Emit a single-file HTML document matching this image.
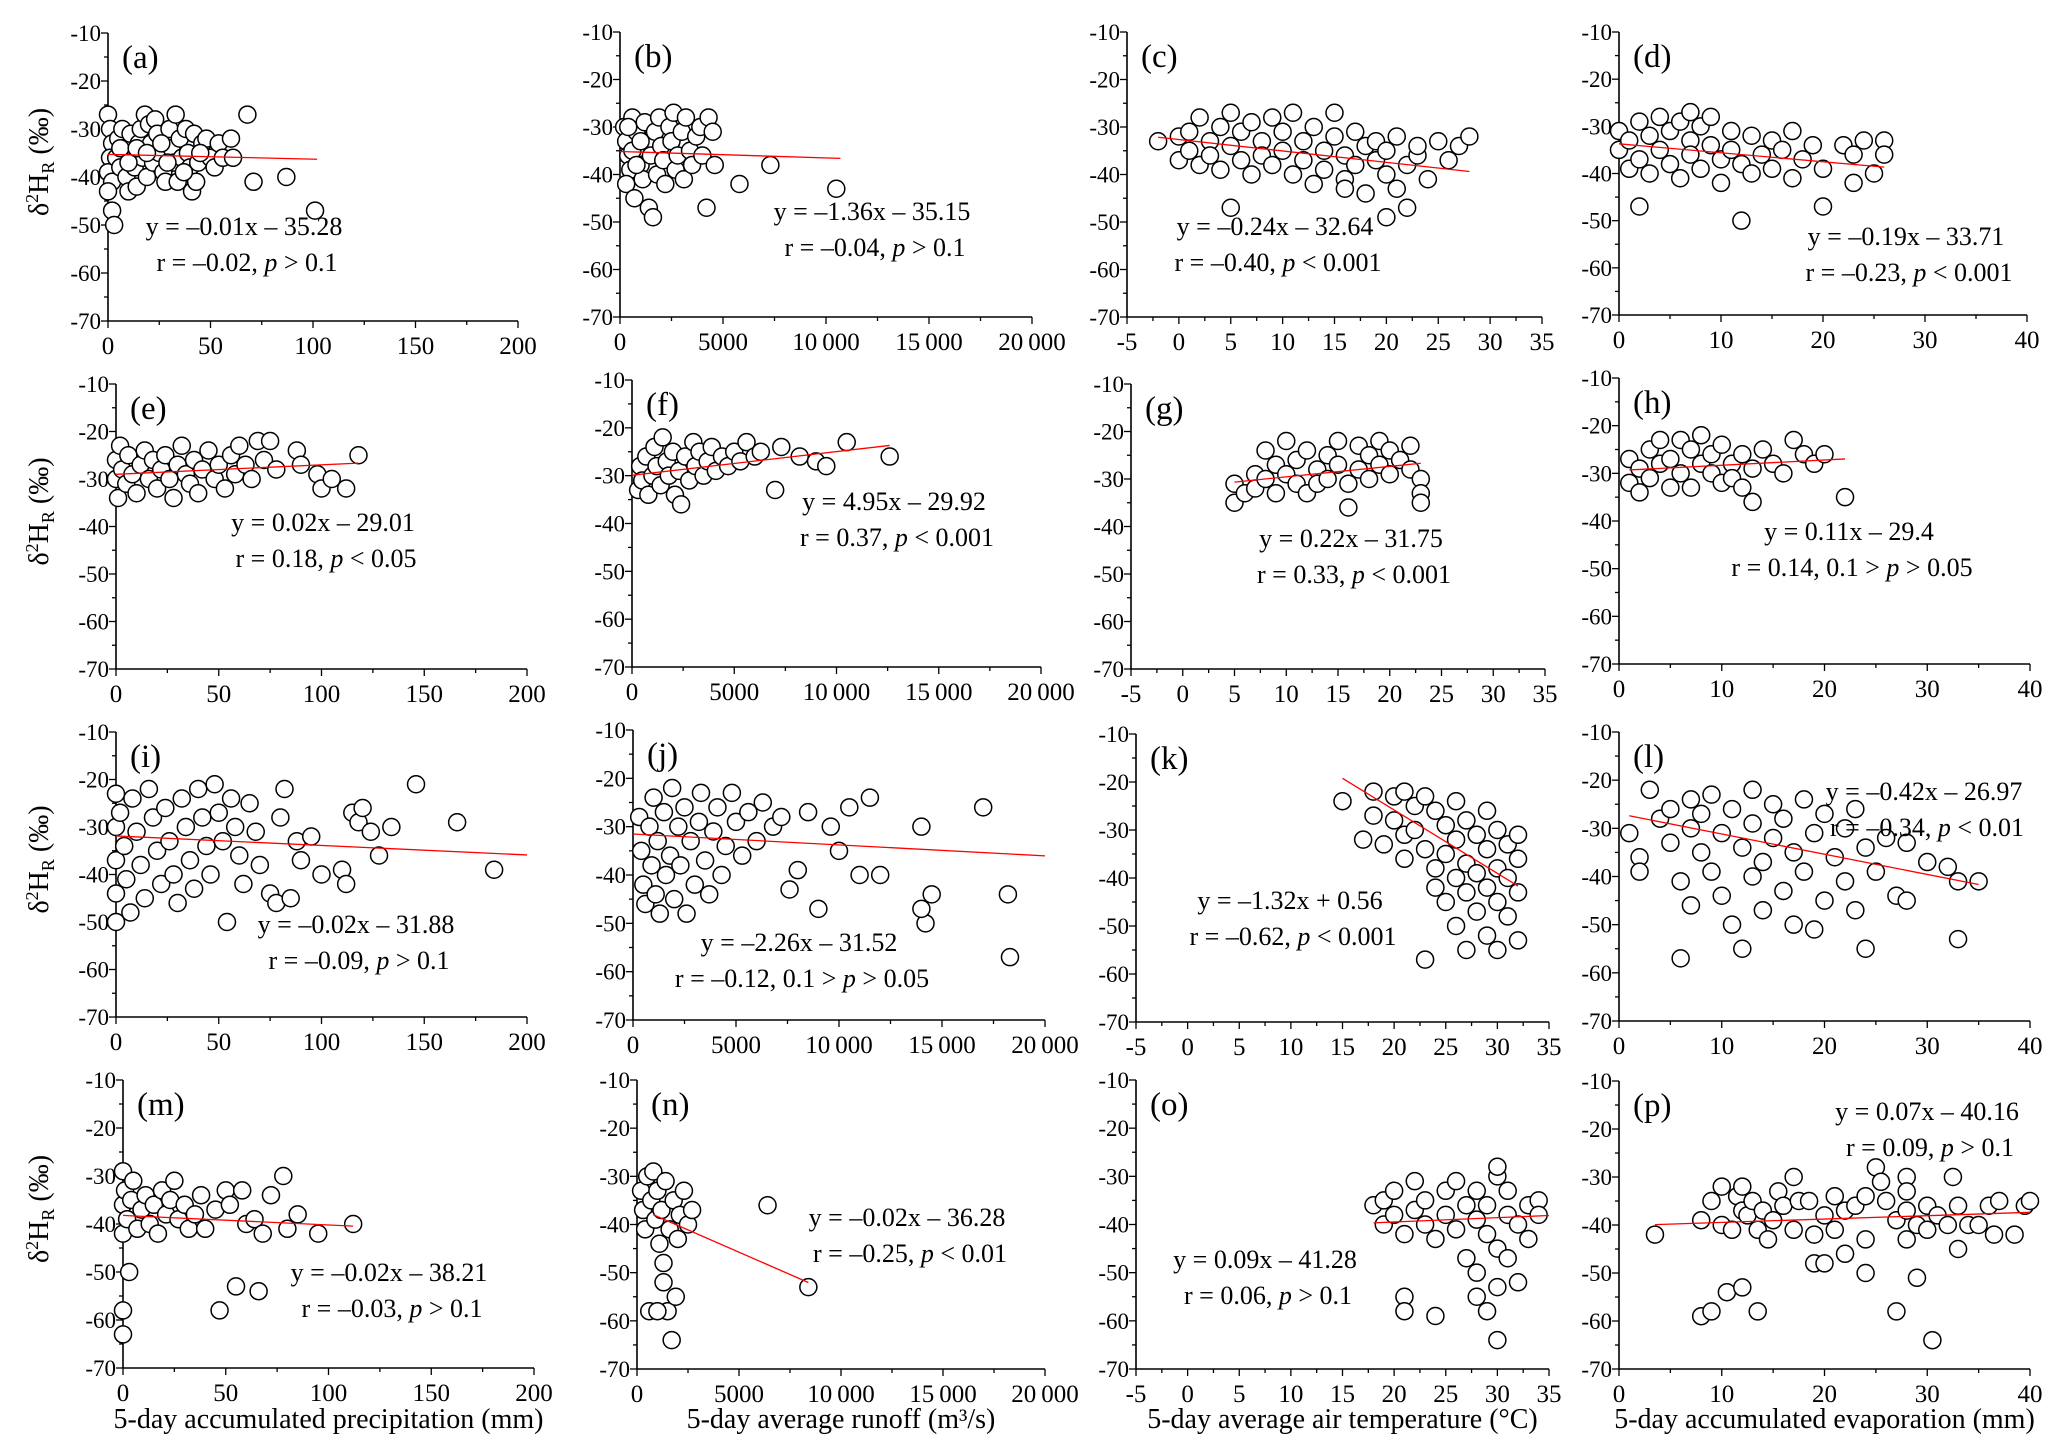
<!DOCTYPE html>
<html><head><meta charset="utf-8"><style>
html,body{margin:0;padding:0;background:#fff;}
svg{display:block;font-family:"Liberation Serif","DejaVu Serif",serif;}
</style></head><body>
<svg id="chart" width="2067" height="1450" viewBox="0 0 2067 1450" xmlns="http://www.w3.org/2000/svg"></svg>
<script>
// ---- data (x, δ2H) ----
const dataA=[[0,-27],[1,-30],[2,-33],[1,-36],[0,-39],[2,-41],[0,-43],[2,-47],[3,-50],[4,-36],[5,-32],[6,-38],[7,-30],[8,-34],[9,-40],[10,-43],[11,-31],[12,-35],[13,-38],[14,-42],[15,-33],[16,-30],[17,-36],[18,-27],[19,-40],[20,-29],[21,-33],[22,-37],[23,-28],[24,-31],[25,-35],[27,-39],[28,-41],[30,-30],[31,-34],[32,-37],[33,-27],[34,-41],[35,-32],[36,-36],[38,-30],[39,-35],[40,-38],[41,-43],[42,-31],[43,-41],[44,-37],[46,-33],[48,-32],[50,-36],[52,-38],[54,-33],[56,-36],[60,-32],[61,-36],[68,-27],[71,-41],[87,-40],[101,-47],[6,-34],[10,-37],[14,-34],[19,-35],[26,-33],[29,-37],[37,-39],[45,-35]];
const dataB=[[200,-30],[300,-33],[400,-36],[500,-39],[300,-42],[600,-28],[700,-45],[800,-31],[900,-35],[1000,-38],[1100,-41],[1200,-29],[1300,-33],[1400,-47],[1500,-36],[1600,-49],[1700,-31],[1800,-40],[1900,-28],[2000,-34],[2100,-37],[2200,-42],[2400,-30],[2500,-33],[2600,-27],[2700,-39],[2800,-36],[3000,-31],[3100,-41],[3200,-28],[3400,-35],[3500,-38],[3700,-32],[3900,-30],[4000,-36],[4200,-47],[4300,-28],[4500,-31],[4600,-38],[5800,-42],[7300,-38],[10500,-43],[400,-30],[600,-35],[800,-38],[1000,-33]];
const dataC=[[-2,-33],[0,-32],[0,-37],[1,-35],[1,-31],[2,-38],[2,-28],[3,-33],[3,-36],[4,-30],[4,-39],[5,-27],[5,-34],[5,-47],[6,-31],[6,-37],[7,-29],[7,-40],[8,-33],[8,-36],[9,-28],[9,-38],[10,-31],[10,-35],[11,-27],[11,-40],[12,-33],[12,-37],[13,-30],[13,-42],[14,-35],[14,-39],[15,-32],[15,-27],[16,-36],[16,-41],[17,-31],[17,-38],[18,-34],[18,-44],[19,-37],[19,-33],[20,-40],[20,-35],[21,-32],[21,-43],[22,-38],[22,-47],[23,-36],[23,-34],[24,-41],[25,-33],[26,-37],[27,-34],[28,-32],[20,-49],[16,-43]];
const dataD=[[0,-31],[0,-35],[1,-39],[1,-33],[2,-29],[2,-37],[2,-47],[3,-32],[3,-40],[4,-28],[4,-35],[5,-31],[5,-38],[6,-29],[6,-41],[7,-27],[7,-33],[7,-36],[8,-30],[8,-39],[9,-34],[9,-28],[10,-37],[10,-42],[11,-31],[11,-35],[12,-50],[12,-38],[13,-32],[13,-40],[14,-36],[15,-33],[15,-39],[16,-35],[17,-31],[17,-41],[18,-37],[19,-34],[20,-47],[20,-39],[22,-34],[23,-36],[24,-33],[25,-40],[26,-33],[26,-36],[23,-42]];
const dataE=[[0,-26],[0,-30],[1,-34],[2,-23],[3,-28],[5,-31],[6,-25],[8,-29],[10,-33],[12,-27],[14,-24],[16,-30],[18,-26],[20,-32],[22,-28],[24,-25],[26,-30],[28,-34],[30,-27],[32,-23],[34,-29],[36,-31],[38,-26],[40,-33],[42,-28],[45,-24],[48,-30],[50,-27],[53,-32],[56,-25],[58,-29],[60,-23],[63,-27],[66,-30],[69,-22],[72,-26],[75,-22],[78,-28],[88,-24],[90,-27],[98,-29],[100,-32],[105,-30],[112,-32],[118,-25]];
const dataF=[[300,-33],[400,-28],[500,-31],[700,-26],[800,-34],[1000,-30],[1100,-24],[1200,-28],[1400,-32],[1500,-22],[1700,-27],[1800,-30],[2000,-25],[2100,-34],[2300,-29],[2400,-36],[2600,-26],[2800,-31],[3000,-23],[3100,-28],[3300,-25],[3500,-30],[3700,-27],[3900,-24],[4100,-29],[4400,-26],[4700,-28],[5000,-25],[5300,-27],[5600,-23],[6000,-26],[6300,-25],[7000,-33],[7300,-24],[8200,-26],[9000,-27],[9500,-28],[10500,-23],[12600,-26]];
const dataG=[[5,-35],[5,-31],[6,-33],[7,-29],[7,-32],[8,-24],[8,-30],[9,-27],[9,-33],[10,-22],[10,-29],[11,-31],[11,-26],[12,-24],[12,-33],[13,-28],[13,-31],[14,-25],[14,-30],[15,-22],[15,-27],[16,-31],[16,-36],[17,-23],[17,-28],[18,-25],[18,-30],[19,-22],[19,-27],[20,-24],[20,-29],[21,-26],[22,-23],[22,-28],[23,-30],[23,-33],[23,-35]];
const dataH=[[1,-27],[1,-32],[2,-29],[2,-34],[3,-25],[3,-31],[4,-23],[4,-28],[5,-33],[5,-27],[6,-23],[6,-30],[7,-25],[7,-33],[8,-28],[8,-22],[9,-30],[9,-26],[10,-32],[10,-24],[11,-28],[11,-31],[12,-26],[12,-33],[13,-29],[13,-36],[14,-25],[15,-28],[16,-30],[17,-23],[18,-26],[19,-28],[20,-26],[22,-35]];
const dataI=[[0,-23],[0,-30],[0,-37],[0,-44],[0,-50],[2,-27],[4,-34],[5,-41],[7,-48],[8,-24],[10,-31],[12,-38],[14,-45],[16,-22],[18,-28],[20,-35],[22,-42],[24,-26],[26,-33],[28,-40],[30,-46],[32,-24],[34,-30],[36,-37],[38,-43],[40,-22],[42,-28],[44,-34],[46,-40],[48,-21],[50,-27],[52,-33],[54,-50],[56,-24],[58,-30],[60,-36],[62,-42],[65,-25],[68,-31],[70,-38],[75,-44],[78,-46],[80,-28],[82,-22],[85,-45],[88,-33],[90,-37],[95,-32],[100,-40],[110,-39],[112,-42],[115,-27],[118,-29],[120,-26],[124,-31],[128,-36],[134,-30],[146,-21],[166,-29],[184,-39]];
const dataJ=[[300,-28],[400,-35],[500,-42],[600,-46],[800,-30],[900,-38],[1000,-24],[1100,-44],[1200,-33],[1300,-48],[1500,-27],[1600,-40],[1800,-36],[1900,-22],[2000,-45],[2200,-30],[2300,-38],[2500,-26],[2600,-48],[2800,-33],[3000,-42],[3200,-29],[3300,-23],[3500,-37],[3700,-44],[3900,-31],[4100,-26],[4300,-40],[4500,-34],[4800,-23],[5000,-29],[5300,-36],[5600,-27],[6000,-33],[6300,-25],[6800,-30],[7200,-28],[7600,-43],[8000,-39],[8500,-27],[9000,-47],[9600,-30],[10000,-35],[10500,-26],[11000,-40],[11500,-24],[12000,-40],[14000,-30],[14200,-50],[14500,-44],[14000,-47],[17000,-26],[18200,-44],[18300,-57]];
const dataK=[[15,-24],[17,-32],[18,-22],[18,-27],[19,-33],[20,-23],[20,-28],[21,-22],[21,-31],[21,-36],[22,-25],[22,-30],[23,-57],[23,-23],[23,-34],[24,-26],[24,-38],[24,-42],[25,-29],[25,-35],[25,-45],[26,-24],[26,-32],[26,-40],[26,-50],[27,-28],[27,-37],[27,-43],[27,-55],[28,-31],[28,-39],[28,-47],[29,-26],[29,-34],[29,-42],[29,-52],[30,-30],[30,-38],[30,-45],[30,-55],[31,-33],[31,-40],[31,-48],[32,-36],[32,-43],[32,-53],[32,-31]];
const dataL=[[1,-31],[2,-36],[2,-39],[3,-22],[4,-28],[5,-26],[5,-33],[6,-41],[6,-57],[7,-24],[7,-30],[7,-46],[8,-35],[8,-27],[9,-23],[9,-39],[10,-31],[10,-44],[11,-26],[11,-50],[12,-34],[12,-55],[13,-22],[13,-29],[13,-40],[14,-37],[14,-47],[15,-25],[15,-32],[16,-43],[16,-28],[17,-35],[17,-50],[18,-24],[18,-39],[19,-31],[19,-51],[20,-27],[20,-45],[21,-36],[22,-30],[22,-41],[23,-26],[23,-47],[24,-34],[24,-55],[25,-39],[26,-32],[27,-44],[28,-45],[28,-33],[30,-37],[32,-38],[33,-53],[33,-41],[35,-41]];
const dataM=[[0,-29],[0,-36],[0,-42],[0,-58],[0,-63],[1,-33],[2,-39],[3,-50],[4,-35],[5,-31],[7,-41],[9,-37],[11,-34],[13,-40],[15,-36],[17,-42],[19,-33],[21,-38],[23,-35],[25,-31],[27,-39],[30,-36],[32,-41],[35,-38],[38,-34],[40,-41],[45,-37],[47,-58],[50,-33],[52,-36],[55,-53],[58,-33],[60,-40],[64,-39],[66,-54],[68,-42],[72,-34],[78,-30],[80,-41],[85,-38],[95,-42],[112,-40]];
const dataN=[[200,-33],[300,-37],[400,-41],[500,-30],[600,-58],[700,-35],[800,-29],[900,-39],[1000,-33],[1100,-44],[1200,-37],[1300,-48],[1400,-31],[1500,-58],[1600,-41],[1700,-64],[1800,-35],[1900,-55],[2000,-43],[2100,-38],[2300,-33],[2500,-40],[2700,-37],[6400,-36],[8400,-53],[1000,-58],[1300,-52]];
const dataO=[[18,-36],[19,-35],[19,-40],[20,-38],[20,-33],[21,-42],[21,-55],[21,-58],[22,-37],[22,-31],[23,-40],[23,-35],[24,-43],[24,-59],[25,-33],[25,-38],[26,-41],[26,-31],[27,-36],[27,-47],[28,-39],[28,-33],[28,-50],[29,-42],[29,-58],[29,-36],[30,-30],[30,-28],[30,-45],[30,-64],[30,-53],[31,-38],[31,-33],[31,-47],[32,-40],[32,-52],[33,-36],[33,-43],[34,-35],[34,-38],[28,-55]];
const dataP=[[3.5,-42],[8,-39],[9,-35],[8,-59],[9,-58],[10,-32],[10,-40],[10.5,-54],[11,-41],[11.5,-34],[12,-32],[12,-37],[12,-53],[12.5,-38],[13,-35],[13.5,-41],[13.5,-58],[14,-37],[14.5,-43],[15,-39],[15.5,-33],[16,-36],[17,-30],[17,-41],[17.5,-35],[18.5,-35],[19,-42],[19,-48],[20,-48],[20,-38],[21,-34],[21,-41],[22,-37],[22,-46],[23,-36],[24,-34],[24,-43],[24,-50],[25,-28],[25.5,-31],[26,-35],[27,-58],[27,-39],[28,-30],[28,-33],[28,-37],[28,-43],[29,-40],[29,-51],[30,-36],[30,-41],[30.5,-64],[31,-38],[32,-40],[32.5,-30],[33,-36],[33,-45],[34,-40],[35,-40],[36,-36],[36.5,-42],[37,-35],[38.5,-42],[39.5,-36],[40,-35]];
// regression lines: slope, intercept, x-start, x-end (data units)
const slopes=[-0.01,-0.000136,-0.24,-0.19,0.02,0.000495,0.22,0.11,-0.02,-0.000226,-1.32,-0.42,-0.02,-0.00185,0.09,0.07];
const intercepts=[-35.28,-35.15,-32.64,-33.71,-29.01,-29.92,-31.75,-29.4,-31.88,-31.52,0.56,-26.97,-38.21,-36.5,-41.28,-40.16];
const lineStart=[0,0,-2,0,0,0,5,1,0,0,15,1,0,800,18,3.5];
const lineEnd=[102,10700,28,26,118,12600,23,22,200,20000,32,35,112,8400,35,40];
const panelLetters=["a","b","c","d","e","f","g","h","i","j","k","l","m","n","o","p"];
const eq1=["y = \u20130.01x \u2013 35.28","y = \u20131.36x \u2013 35.15","y = \u20130.24x \u2013 32.64","y = \u20130.19x \u2013 33.71","y = 0.02x \u2013 29.01","y = 4.95x \u2013 29.92","y = 0.22x \u2013 31.75","y = 0.11x \u2013 29.4","y = \u20130.02x \u2013 31.88","y = \u20132.26x \u2013 31.52","y = \u20131.32x + 0.56","y = \u20130.42x \u2013 26.97","y = \u20130.02x \u2013 38.21","y = \u20130.02x \u2013 36.28","y = 0.09x \u2013 41.28","y = 0.07x \u2013 40.16"];
const eq2a=["r = \u20130.02, ","r = \u20130.04, ","r = \u20130.40, ","r = \u20130.23, ","r = 0.18, ","r = 0.37, ","r = 0.33, ","r = 0.14, 0.1 > ","r = \u20130.09, ","r = \u20130.12, 0.1 > ","r = \u20130.62, ","r = \u20130.34, ","r = \u20130.03, ","r = \u20130.25, ","r = 0.06, ","r = 0.09, "];
const eq2b=[" > 0.1"," > 0.1"," < 0.001"," < 0.001"," < 0.05"," < 0.001"," < 0.001"," > 0.05"," > 0.1"," > 0.05"," < 0.001"," < 0.01"," > 0.1"," < 0.01"," > 0.1"," > 0.1"];
const datasets=[dataA,dataB,dataC,dataD,dataE,dataF,dataG,dataH,dataI,dataJ,dataK,dataL,dataM,dataN,dataO,dataP];
const xTicksPrecip=[0,50,100,150,200];
const xTicksRunoff=[0,5000,10000,15000,20000];
const xTicksRunoffLabels=["0","5000","10\u2009000","15\u2009000","20\u2009000"];
const xTicksTemp=[-5,0,5,10,15,20,25,30,35];
const xTicksEvap=[0,10,20,30,40];
const yTicks=[-10,-20,-30,-40,-50,-60,-70];
const xAxisTitles=["5-day accumulated precipitation (mm)","5-day average runoff (m\u00b3/s)","5-day average air temperature (\u00b0C)","5-day accumulated evaporation (mm)"];

const boxes=[[108,33,518,321],[620,32,1032,317],[1127,32,1542,317],[1619,32,2027,315],
[116,384,527,669],[632,380,1041,667],[1131,384,1545,669],[1619,378,2030,664],
[116,732,527,1017],[633,730,1045,1020],[1136,734,1549,1022],[1619,732,2030,1021],
[123,1080,534,1368],[637,1080,1045,1369],[1136,1080,1549,1369],[1619,1081,2030,1369]];
const eqPos=[[244,235],[872,220],[1275,235],[1906,245],[323,531],[894,510],[1351,547],[1849,540],[356,933],[799,951],[1290,909],[1924,800],[389,1281],[907,1226],[1265,1268],[1927,1120]];

const svg=document.getElementById('chart');
const NS="http://www.w3.org/2000/svg";
function mk(tag,attrs,parent){const e=document.createElementNS(NS,tag);for(const k in attrs)e.setAttribute(k,attrs[k]);(parent||svg).appendChild(e);return e;}

for(let i=0;i<16;i++){
  const col=i%4,row=Math.floor(i/4);
  const [x0,y0,x1,y1]=boxes[i];
  let xmin,xmax,ticks,labels,minorStep;
  if(col===0){xmin=0;xmax=200;ticks=xTicksPrecip;labels=ticks.map(String);minorStep=25;}
  else if(col===1){xmin=0;xmax=20000;ticks=xTicksRunoff;labels=xTicksRunoffLabels;minorStep=2500;}
  else if(col===2){xmin=-5;xmax=35;ticks=xTicksTemp;labels=ticks.map(String);minorStep=2.5;}
  else {xmin=0;xmax=40;ticks=xTicksEvap;labels=ticks.map(String);minorStep=5;}
  const sx=v=>x0+(v-xmin)/(xmax-xmin)*(x1-x0);
  const sy=v=>y0+(-10-v)/60*(y1-y0);
  const g=mk('g',{});
  
  
  const ax=mk('path',{d:`M${x0},${y0}V${y1}H${x1}`,fill:'none',stroke:'#000','stroke-width':1.6},g);
  
  
  for(let v=-10;v>=-70;v-=5){
    const major=v%10===0;
    mk('line',{x1:x0-(major?7:4),x2:x0,y1:sy(v),y2:sy(v),stroke:'#000','stroke-width':1.3},g);
  }
  yTicks.forEach(v=>{
    const t=mk('text',{x:x0-7,y:sy(v)+8,'text-anchor':'end','font-size':23},g);
    t.textContent=String(v);
    
    
  });
  for(let v=xmin;v<=xmax+1e-9;v+=minorStep){
    const major=ticks.some(t=>Math.abs(t-v)<1e-9);
    mk('line',{x1:sx(v),x2:sx(v),y1:y1,y2:y1+(major?7:4),stroke:'#000','stroke-width':1.3},g);
  }
  ticks.forEach((v,k)=>{
    const t=mk('text',{x:sx(v),y:y1+33,'text-anchor':'middle','font-size':25},g);
    t.textContent=labels[k];
    
    
  });
  datasets[i].forEach(p=>{
    const c=mk('circle',{cx:sx(p[0]),cy:sy(p[1]),r:8.5,fill:'#fff',stroke:'#000','stroke-width':1.5},g);
    
    
  });
  const xa=lineStart[i],xb=lineEnd[i];
  const rl=mk('line',{x1:sx(xa),y1:sy(slopes[i]*xa+intercepts[i]),x2:sx(xb),y2:sy(slopes[i]*xb+intercepts[i]),stroke:'#f00','stroke-width':1.3},g);
  
  
  const pl=mk('text',{x:x0+14,y:y0+35,'font-size':33},g);
  pl.textContent='('+panelLetters[i]+')';
  
  
  const [ex,ey]=eqPos[i];
  const t1=mk('text',{x:ex,y:ey,'text-anchor':'middle','font-size':26},g);
  t1.textContent=eq1[i];
  
  
  const t2=mk('text',{x:ex+3,y:ey+36,'text-anchor':'middle','font-size':26},g);
  
  
  const s1=mk('tspan',{},t2);s1.textContent=eq2a[i];
  const s2=mk('tspan',{'font-style':'italic'},t2);s2.textContent='p';
  const s3=mk('tspan',{},t2);s3.textContent=eq2b[i];
  if(col===0){
    const cy=(y0+y1)/2-15;
    const yt=mk('text',{x:0,y:0,transform:`translate(48,${cy}) rotate(-90)`,'text-anchor':'middle','font-size':28},g);
    
    
    const a=mk('tspan',{},yt);a.textContent='\u03b4';
    const b=mk('tspan',{dy:-10,'font-size':18},yt);b.textContent='2';
    const c=mk('tspan',{dy:10},yt);c.textContent='H';
    const d=mk('tspan',{dy:6,'font-size':18},yt);d.textContent='R';
    const e=mk('tspan',{dy:-6},yt);e.textContent=' (\u2030)';
  }
  if(row===3){
    const xt=mk('text',{x:(x0+x1)/2,y:1428,'text-anchor':'middle','font-size':28},g);
    xt.textContent=xAxisTitles[col];
    
    
  }
}
</script>
</body></html>
